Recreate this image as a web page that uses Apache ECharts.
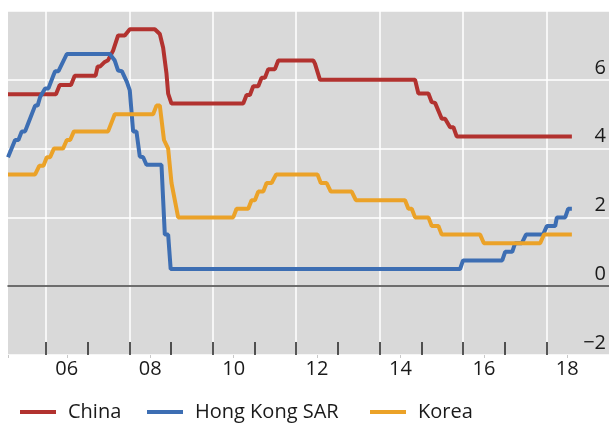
<!DOCTYPE html>
<html>
<head>
<meta charset="utf-8">
<title>Policy rates</title>
<script src="https://cdn.jsdelivr.net/npm/echarts@6.0.0/dist/echarts.min.js"></script>
<style>
  html, body { margin: 0; padding: 0; background: #ffffff; }
  #main { width: 609px; height: 423px; }
</style>
</head>
<body>
<div id="main"></div>
<script>
// dates as decimal years, rates in percent (breakpoints of the monthly lines)
var chinaDates = [2005.09, 2006.24, 2006.33, 2006.60, 2006.69, 2007.19, 2007.24, 2007.30, 2007.41, 2007.49,
  2007.61, 2007.73, 2007.89, 2008.01, 2008.61, 2008.73, 2008.81, 2008.89, 2008.93, 2009.01,
  2010.73, 2010.81, 2010.89, 2010.97, 2011.09, 2011.17, 2011.25, 2011.33, 2011.49, 2011.57,
  2012.41, 2012.45, 2012.57, 2014.85, 2014.93, 2015.17, 2015.25, 2015.33, 2015.49, 2015.57,
  2015.69, 2015.77, 2015.85, 2018.61];
var chinaRates = [5.58, 5.58, 5.85, 5.85, 6.12, 6.12, 6.39, 6.39, 6.52, 6.57,
  6.85, 7.29, 7.29, 7.47, 7.47, 7.33, 6.93, 6.18, 5.60, 5.31,
  5.31, 5.56, 5.56, 5.81, 5.81, 6.06, 6.06, 6.31, 6.31, 6.56,
  6.56, 6.47, 6.00, 6.00, 5.60, 5.60, 5.35, 5.33, 4.87, 4.87,
  4.62, 4.62, 4.35, 4.35];

var hkDates = [2005.09, 2005.26, 2005.34, 2005.42, 2005.50, 2005.58, 2005.74, 2005.80, 2005.86, 2005.98,
  2006.06, 2006.18, 2006.22, 2006.30, 2006.50, 2007.53, 2007.65, 2007.73, 2007.82, 2007.94,
  2008.01, 2008.09, 2008.17, 2008.25, 2008.33, 2008.41, 2008.77, 2008.81, 2008.85, 2008.93,
  2008.99, 2015.93, 2016.00, 2016.94, 2017.01, 2017.18, 2017.25, 2017.41, 2017.51, 2017.92,
  2018.01, 2018.21, 2018.25, 2018.45, 2018.52, 2018.61];
var hkRates = [3.75, 4.25, 4.25, 4.50, 4.50, 4.75, 5.25, 5.25, 5.50, 5.75,
  5.75, 6.13, 6.25, 6.25, 6.75, 6.75, 6.56, 6.27, 6.25, 5.94,
  5.69, 4.50, 4.50, 3.77, 3.75, 3.53, 3.53, 2.51, 1.50, 1.50,
  0.50, 0.50, 0.75, 0.75, 1.00, 1.00, 1.25, 1.25, 1.50, 1.50,
  1.75, 1.75, 2.00, 2.00, 2.25, 2.25];

var koreaDates = [2005.09, 2005.74, 2005.84, 2005.94, 2006.02, 2006.10, 2006.19, 2006.41, 2006.50, 2006.58,
  2006.67, 2007.49, 2007.65, 2008.57, 2008.65, 2008.73, 2008.83, 2008.93, 2009.01, 2009.17,
  2010.49, 2010.57, 2010.85, 2010.93, 2011.01, 2011.09, 2011.21, 2011.29, 2011.41, 2011.52,
  2012.51, 2012.59, 2012.73, 2012.83, 2013.33, 2013.43, 2014.61, 2014.69, 2014.77, 2014.85,
  2015.17, 2015.25, 2015.41, 2015.49, 2016.41, 2016.50, 2017.85, 2017.94, 2018.61];
var koreaRates = [3.25, 3.25, 3.50, 3.50, 3.75, 3.75, 4.00, 4.00, 4.25, 4.25,
  4.50, 4.50, 5.00, 5.00, 5.25, 5.25, 4.25, 4.00, 3.00, 2.00,
  2.00, 2.25, 2.25, 2.50, 2.50, 2.75, 2.75, 3.00, 3.00, 3.25,
  3.25, 3.00, 3.00, 2.75, 2.75, 2.50, 2.50, 2.25, 2.25, 2.00,
  2.00, 1.75, 1.75, 1.50, 1.50, 1.25, 1.25, 1.50, 1.50];

var seriesNames = ['China', 'Hong Kong SAR', 'Korea'];
var gridYears = [2006, 2008, 2010, 2012, 2014, 2016, 2018];
var tickYears = [2006, 2007, 2008, 2009, 2010, 2011, 2012, 2013, 2014, 2015, 2016, 2017, 2018];
var labelYears = [2006.5, 2008.5, 2010.5, 2012.5, 2014.5, 2016.5, 2018.5];
var xStart = 2005.09, xEnd = 2019.5;

var font = 'Open Sans';
var colors = ['#b2322f', '#3d6eb3', '#eba228'];

function zip(a, b) {
  var out = [];
  for (var i = 0; i < a.length; i++) out.push([a[i], b[i]]);
  return out;
}

var chart = echarts.init(document.getElementById('main'));

function legendFor(name, left) {
  return {
    data: [name],
    left: left,
    top: 402,
    icon: 'rect',
    itemWidth: 36,
    itemHeight: 4,
    padding: 0,
    selectedMode: false,
    textStyle: { fontFamily: font, fontSize: 20, color: '#1a1a1a', padding: [0, 0, 0, 7] }
  };
}

chart.setOption({
  animation: false,
  color: colors,
  textStyle: { fontFamily: font },
  grid: {
    left: 8, right: 0, top: 11, bottom: 68,
    show: true, backgroundColor: '#d9d9d9', borderWidth: 0
  },
  legend: [legendFor('China', 20), legendFor('Hong Kong SAR', 147), legendFor('Korea', 370)],
  xAxis: [
    {
      // data axis: even-year grid lines, zero line
      type: 'value', min: xStart, max: xEnd, position: 'bottom',
      axisLine: { show: true, onZero: true, lineStyle: { color: '#404040', width: 1.5 } },
      axisTick: { show: false, customValues: gridYears },
      axisLabel: { show: false },
      splitLine: { show: true, lineStyle: { color: '#ffffff', width: 1.5 } }
    },
    {
      // yearly ticks + labels
      type: 'value', min: xStart, max: xEnd, position: 'bottom',
      axisLine: { show: false, onZero: false },
      axisTick: { show: true, inside: true, length: 13, customValues: tickYears,
        lineStyle: { color: '#222222', width: 1.5 } },
      axisLabel: {
        show: true, customValues: labelYears, margin: 4,
        fontFamily: font, fontSize: 20, color: '#1a1a1a',
        formatter: function (v) { var y = Math.floor(v) % 100; return (y < 10 ? '0' : '') + y; }
      },
      splitLine: { show: false }
    },
    {
      // small grey marks under the labels
      type: 'value', min: xStart, max: xEnd, position: 'bottom',
      axisLine: { show: false, onZero: false },
      axisTick: { show: true, length: 3, customValues: [xStart].concat(labelYears),
        lineStyle: { color: '#c8c8c8', width: 1 } },
      axisLabel: { show: false },
      splitLine: { show: false }
    }
  ],
  yAxis: {
    type: 'value', min: -2, max: 8, interval: 2, position: 'right',
    axisLine: { show: false },
    axisTick: { show: false },
    axisLabel: {
      inside: true, margin: 3, verticalAlign: 'bottom', padding: [0, 0, 2, 0],
      fontFamily: font, fontSize: 20, color: '#1a1a1a',
      formatter: function (v) {
        if (v === 8) return '';
        return v < 0 ? '\u2212' + (-v) : String(v);
      }
    },
    splitLine: { show: true, lineStyle: { color: '#ffffff', width: 1.5 } }
  },
  series: [
    { name: seriesNames[0], type: 'line', data: zip(chinaDates, chinaRates) },
    { name: seriesNames[1], type: 'line', data: zip(hkDates, hkRates) },
    { name: seriesNames[2], type: 'line', data: zip(koreaDates, koreaRates) }
  ].map(function (s, i) {
    s.xAxisIndex = 0;
    s.showSymbol = false;
    s.symbol = 'none';
    s.lineStyle = { width: 4, color: colors[i] };
    s.z = 3;
    return s;
  })
});
</script>
</body>
</html>
